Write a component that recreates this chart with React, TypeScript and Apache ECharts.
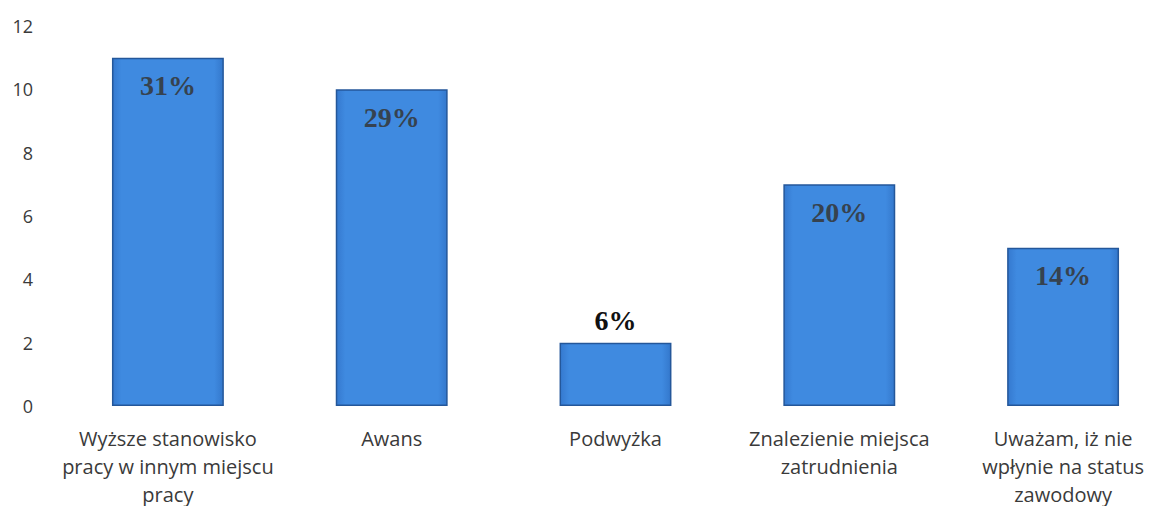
import React, { useEffect, useRef } from "react";
import * as echarts from "echarts";

const categories = [
  "Wyższe stanowisko\npracy w innym miejscu\npracy",
  "Awans",
  "Podwyżka",
  "Znalezienie miejsca\nzatrudnienia",
  "Uważam, iż nie\nwpłynie na status\nzawodowy",
];
const values = [11, 10, 2, 7, 5];
const percentLabels = ["31%", "29%", "6%", "20%", "14%"];
const labelOutside = [false, false, true, false, false];

export default function App() {
  const ref = useRef<HTMLDivElement>(null);
  useEffect(() => {
    if (!ref.current) return;
    const chart = echarts.init(ref.current, null, { renderer: "svg" });
    const barColor = new echarts.graphic.LinearGradient(0, 0, 1, 0, [
      { offset: 0, color: "#3579cf" },
      { offset: 0.08, color: "#3f8ae0" },
      { offset: 0.92, color: "#3f8ae0" },
      { offset: 1, color: "#3478cc" },
    ]);
    chart.setOption({
      animation: false,
      grid: {
        left: 56,
        width: 1119,
        top: 26,
        bottom: 100,
        containLabel: false,
        outerBoundsMode: "none",
      },
      xAxis: {
        type: "category",
        data: categories,
        axisLine: { show: false },
        axisTick: { show: false },
        axisLabel: {
          interval: 0,
          margin: 18,
          fontFamily: "Open Sans",
          fontSize: 20,
          lineHeight: 28,
          color: "#3a3a3a",
        },
      },
      yAxis: {
        type: "value",
        min: 0,
        max: 12,
        interval: 2,
        splitLine: { show: false },
        axisLine: { show: false },
        axisTick: { show: false },
        axisLabel: {
          margin: 23,
          fontFamily: "Open Sans",
          fontSize: 18,
          color: "#3a3a3a",
        },
      },
      series: [
        {
          type: "bar",
          barWidth: "50%",
          data: values.map((v, i) => ({
            value: v,
            label: labelOutside[i]
              ? { position: "top", distance: 8, color: "#111111" }
              : { position: "insideTop", distance: 14, color: "#36424f" },
          })),
          itemStyle: {
            color: barColor,
            borderColor: "#24579a",
            borderWidth: 1.5,
          },
          label: {
            show: true,
            formatter: (p: any) => percentLabels[p.dataIndex],
            fontFamily: "Liberation Serif",
            fontWeight: "bold",
            fontSize: 28,
          },
        },
      ],
    });
    return () => chart.dispose();
  }, []);
  return (
    <div
      ref={ref}
      style={{ position: "absolute", left: 0, top: 0, width: 1149, height: 506, background: "#fff" }}
    />
  );
}
